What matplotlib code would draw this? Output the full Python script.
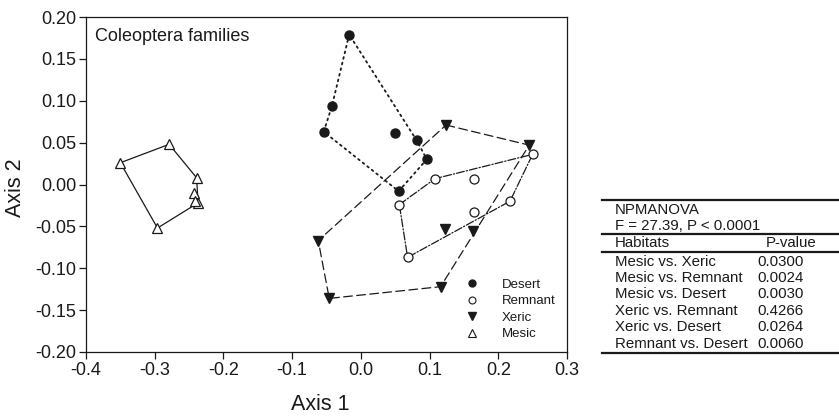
import numpy as np
import matplotlib
matplotlib.use("Agg")
from matplotlib import pyplot as plt
from matplotlib.lines import Line2D

plt.rcParams['font.family'] = ['Liberation Sans', 'DejaVu Sans']

# NMS ordination scores (Axis 1, Axis 2) per habitat
desert_x = [-0.017, -0.042, -0.054, 0.055, 0.096, 0.081, 0.049]
desert_y = [0.179, 0.094, 0.063, -0.008, 0.030, 0.053, 0.061]
desert_hull = [0, 1, 2, 3, 4, 5, 0]

remnant_x = [0.056, 0.108, 0.250, 0.217, 0.068, 0.165, 0.165]
remnant_y = [-0.024, 0.007, 0.036, -0.020, -0.087, 0.007, -0.033]
remnant_hull = [0, 1, 2, 3, 4, 0]

xeric_x = [0.124, 0.245, 0.116, -0.046, -0.062, 0.123, 0.163]
xeric_y = [0.071, 0.047, -0.122, -0.136, -0.067, -0.053, -0.056]
xeric_hull = [0, 1, 2, 3, 4, 0]

mesic_x = [-0.350, -0.279, -0.239, -0.237, -0.296, -0.243, -0.242]
mesic_y = [0.026, 0.048, 0.008, -0.022, -0.052, -0.010, -0.020]
mesic_hull = [0, 1, 2, 3, 4, 0]

x_ticks = [-0.4, -0.3, -0.2, -0.1, 0.0, 0.1, 0.2, 0.3]
y_ticks = [-0.20, -0.15, -0.10, -0.05, 0.00, 0.05, 0.10, 0.15, 0.20]

table_title = "NPMANOVA"
table_stat = "F = 27.39, P < 0.0001"
comparisons = ["Mesic vs. Xeric", "Mesic vs. Remnant", "Mesic vs. Desert",
               "Xeric vs. Remnant", "Xeric vs. Desert", "Remnant vs. Desert"]
p_values = ["0.0300", "0.0024", "0.0030", "0.4266", "0.0264", "0.0060"]

W, H = 839, 416
fig = plt.figure(figsize=(W / 100, H / 100), dpi=100)
ax = fig.add_axes([86 / W, 1 - 352 / H, 481 / W, 335 / H])

ink = '#1a1a1a'
lw = 0.9

groups = [
    (desert_x, desert_y, desert_hull, (0, (1, 2.2)), 1.3,
     dict(marker='o', mfc=ink, mec=ink, ms=6.5)),
    (remnant_x, remnant_y, remnant_hull, '-.', lw,
     dict(marker='o', mfc='white', mec=ink, ms=6.5, mew=0.9)),
    (xeric_x, xeric_y, xeric_hull, (0, (7, 3.5)), lw,
     dict(marker='v', mfc=ink, mec=ink, ms=7)),
    (mesic_x, mesic_y, mesic_hull, '-', lw,
     dict(marker='^', mfc='white', mec=ink, ms=7, mew=0.9)),
]

for gx, gy, hull, ls, w, mk in groups:
    gx = np.array(gx)
    gy = np.array(gy)
    ax.plot(gx[hull], gy[hull], color=ink, lw=w, linestyle=ls,
            dash_capstyle='round', zorder=2)
    ax.plot(gx, gy, linestyle='none', zorder=3, **mk)

ax.set_xlim(-0.4, 0.3)
ax.set_ylim(-0.2, 0.2)
ax.set_xticks(x_ticks)
ax.set_xticklabels([f"{v:.1f}" for v in x_ticks])
ax.set_yticks(y_ticks)
ax.set_yticklabels([f"{v:.2f}" for v in y_ticks])
ax.tick_params(direction='out', length=5, width=0.9, labelsize=13, colors=ink, pad=2)
for s in ax.spines.values():
    s.set_linewidth(0.9)
    s.set_color(ink)
ax.set_xlabel("Axis 1", fontsize=15.5, color=ink)
ax.set_ylabel("Axis 2", fontsize=15.5, color=ink)
ax.xaxis.set_label_coords(0.4865, -0.125)
ax.yaxis.set_label_coords(-0.125, 0.49)

ax.text(0.019, 0.928, "Coleoptera families", transform=ax.transAxes,
        fontsize=13, color=ink, va='baseline', ha='left')

handles = [
    Line2D([], [], linestyle='none', marker='o', mfc=ink, mec=ink, ms=5),
    Line2D([], [], linestyle='none', marker='o', mfc='white', mec=ink, ms=5, mew=0.8),
    Line2D([], [], linestyle='none', marker='v', mfc=ink, mec=ink, ms=5.5),
    Line2D([], [], linestyle='none', marker='^', mfc='white', mec=ink, ms=5.5, mew=0.8),
]
ax.legend(handles, ["Desert", "Remnant", "Xeric", "Mesic"], loc='lower right',
          bbox_to_anchor=(1.0, 0.0), frameon=False, fontsize=9.5,
          handlelength=1.0, handletextpad=1.7, labelspacing=0.32,
          borderaxespad=0.5, labelcolor=ink)


# table drawn in figure pixel coordinates
def fx(px):
    return px / W


def fy(py):
    return 1 - py / H


for ly in [200, 234, 251.5, 352.5]:
    fig.add_artist(Line2D([fx(602), fx(839)], [fy(ly), fy(ly)], color=ink, lw=1.6))

tfs = 10.8
fig.text(fx(615), fy(210), table_title, fontsize=tfs, color=ink, va='center')
fig.text(fx(615), fy(226), table_stat, fontsize=tfs, color=ink, va='center')
fig.text(fx(615), fy(243), "Habitats", fontsize=tfs, color=ink, va='center')
fig.text(fx(766), fy(243), "P-value", fontsize=tfs, color=ink, va='center')
for i, (c, p) in enumerate(zip(comparisons, p_values)):
    yy = 261.5 + 16.4 * i
    fig.text(fx(615), fy(yy), c, fontsize=tfs, color=ink, va='center')
    fig.text(fx(757), fy(yy), p, fontsize=tfs, color=ink, va='center')

fig.savefig("out.png", dpi=100)
